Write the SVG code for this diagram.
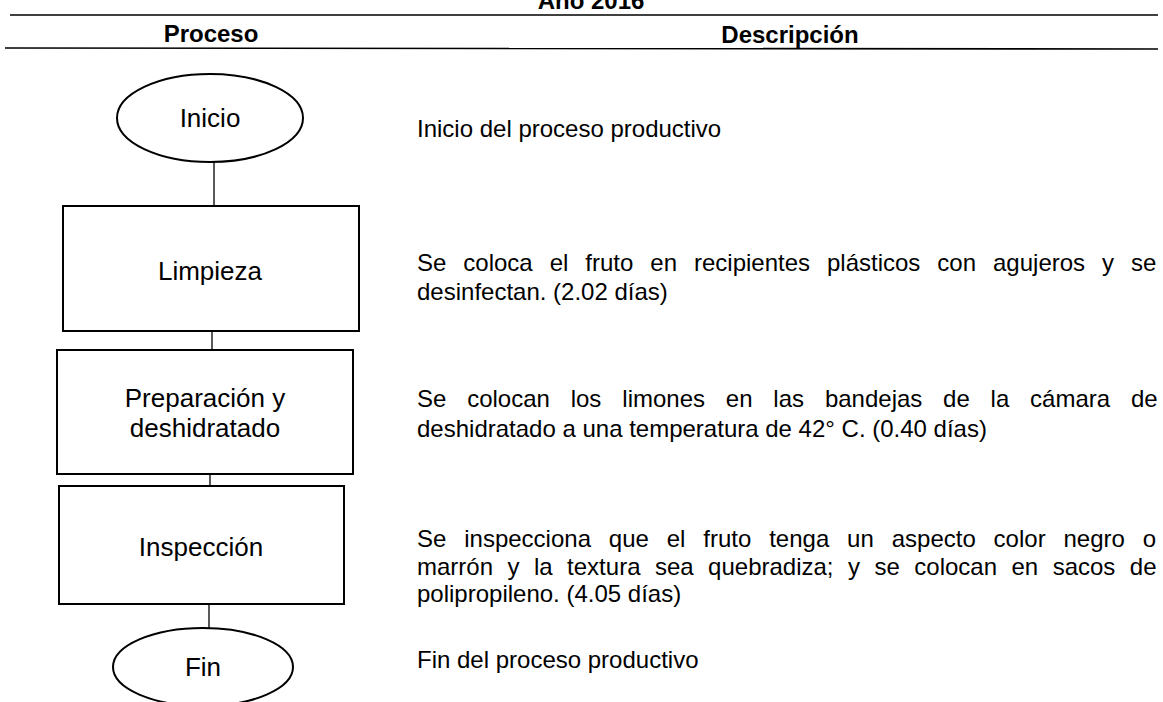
<svg xmlns="http://www.w3.org/2000/svg" width="1163" height="702" viewBox="0 0 1163 702">
<style>
.shape{fill:#fff;stroke:#000;stroke-width:2}
.conn{stroke:#000;stroke-width:1.3;fill:none}
.rule{stroke:#000;stroke-width:1.6}
.hdr{font-family:"Liberation Sans",Arial,sans-serif;font-weight:bold;font-size:24px;fill:#000;text-anchor:middle}
.lbl{font-family:"Liberation Sans",Arial,sans-serif;font-size:26px;fill:#000;text-anchor:middle}
.desc{font-family:"Liberation Sans",Arial,sans-serif;font-size:24px;fill:#000}
</style>
<rect width="1163" height="702" fill="#fff"/>
<text class="hdr" x="591" y="9" font-size="28">Año 2016</text>
<line class="rule" x1="10" y1="15" x2="1158" y2="15"/>
<text class="hdr" x="211" y="42">Proceso</text>
<text class="hdr" x="790" y="43">Descripción</text>
<line class="rule" x1="5" y1="48" x2="1158" y2="49"/>
<g id="connectors">
<line class="conn" x1="214" y1="162" x2="214" y2="206"/>
<line class="conn" x1="212" y1="331" x2="212" y2="350"/>
<line class="conn" x1="210" y1="474" x2="210" y2="486"/>
<line class="conn" x1="209" y1="604" x2="209" y2="628"/>
</g>
<g id="inicio">
<ellipse class="shape" cx="210" cy="118" rx="93" ry="44"/>
<text class="lbl" x="210" y="127">Inicio</text>
</g>
<g id="limpieza">
<rect class="shape" x="63" y="206" width="296" height="125"/>
<text class="lbl" x="210" y="280">Limpieza</text>
</g>
<g id="preparacion">
<rect class="shape" x="57" y="350" width="296" height="124"/>
<text class="lbl" x="205" y="407">Preparación y</text>
<text class="lbl" x="205" y="437">deshidratado</text>
</g>
<g id="inspeccion">
<rect class="shape" x="59" y="486" width="285" height="118"/>
<text class="lbl" x="201" y="556">Inspección</text>
</g>
<g id="fin">
<ellipse class="shape" cx="203" cy="667" rx="90" ry="39"/>
<text class="lbl" x="203" y="676">Fin</text>
</g>
<g id="descripciones">
<text class="desc" x="417" y="137">Inicio del proceso productivo</text>
<text class="desc" x="417" y="271" word-spacing="10.3">Se coloca el fruto en recipientes plásticos con agujeros y se</text>
<text class="desc" x="417" y="300">desinfectan. (2.02 días)</text>
<text class="desc" y="407"><tspan x="417">Se</tspan><tspan x="467.2">colocan</tspan><tspan x="570.7">los</tspan><tspan x="622.3">limones</tspan><tspan x="725.8">en</tspan><tspan x="773.3">las</tspan><tspan x="824.9">bandejas</tspan><tspan x="943.1">de</tspan><tspan x="990.6">la</tspan><tspan x="1030.1">cámara</tspan><tspan x="1130.9">de</tspan></text>
<text class="desc" x="417" y="437">deshidratado a una temperatura de 42° C. (0.40 días)</text>
<text class="desc" x="417" y="547" word-spacing="11.2">Se inspecciona que el fruto tenga un aspecto color negro o</text>
<text class="desc" x="417" y="575" word-spacing="7.8">marrón y la textura sea quebradiza; y se colocan en sacos de</text>
<text class="desc" x="417" y="602">polipropileno. (4.05 días)</text>
<text class="desc" x="417" y="668">Fin del proceso productivo</text>
</g>
</svg>
